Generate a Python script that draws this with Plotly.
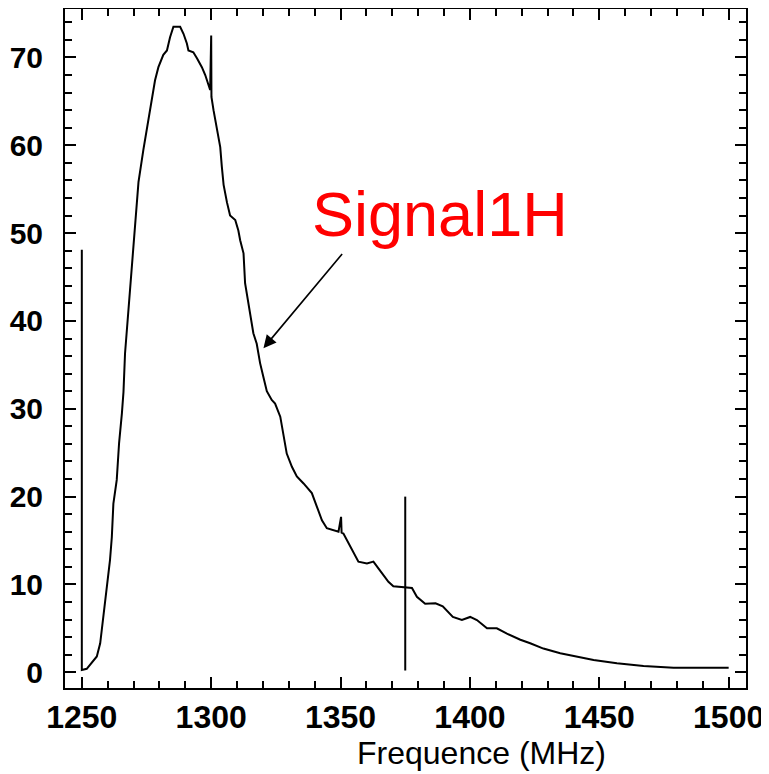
import plotly.graph_objects as go

# Signal curve (MHz, arbitrary units)
freq = [1250.0, 1250.0, 1251.9, 1255.8, 1257.1, 1258.0, 1259.0, 1259.9, 1260.9, 1261.6,
        1262.2, 1263.5, 1264.4, 1265.5, 1266.1, 1266.7, 1267.4, 1268.3, 1269.1, 1270.0,
        1271.3, 1271.9, 1273.8, 1275.1, 1276.4, 1278.3, 1279.6, 1281.5, 1282.9, 1284.1,
        1285.4, 1288.0, 1289.3, 1290.6, 1291.2, 1293.1, 1294.5, 1296.4, 1297.7, 1298.9,
        1299.6, 1300.0, 1300.1, 1300.9, 1302.2, 1303.5, 1304.1, 1304.8, 1306.1, 1307.3,
        1309.3, 1310.5, 1311.2, 1312.5, 1313.1, 1313.8, 1315.1, 1316.3, 1317.6, 1318.9,
        1320.2, 1321.5, 1323.4, 1324.7, 1326.7, 1327.9, 1329.2, 1331.2, 1333.1, 1335.7,
        1338.9, 1340.8, 1342.8, 1344.7, 1349.2, 1350.2, 1350.4, 1351.1, 1353.1, 1355.0,
        1356.9, 1360.2, 1362.7, 1364.7, 1366.6, 1368.5, 1370.4, 1374.3, 1377.6, 1379.5,
        1382.7, 1386.7, 1389.5, 1393.4, 1396.9, 1400.1, 1402.7, 1406.6, 1410.4, 1414.3,
        1419.5, 1423.3, 1428.4, 1434.9, 1441.3, 1447.8, 1456.8, 1467.1, 1478.7, 1500.0]
signal = [48.1, 0.26, 0.4, 1.8, 3.3, 5.6, 8.2, 10.5, 12.8, 15.4,
          19.2, 21.9, 26.1, 29.5, 31.9, 36.3, 39.0, 42.4, 45.8, 49.5,
          54.0, 55.8, 59.5, 61.7, 64.0, 67.4, 68.9, 70.3, 70.8, 72.3,
          73.5, 73.5, 72.7, 71.6, 70.8, 70.6, 69.9, 68.9, 68.0, 66.9,
          66.3, 72.5, 65.5, 64.0, 62.1, 59.8, 57.6, 55.5, 53.5, 52.0,
          51.5, 50.3, 49.2, 47.7, 44.3, 43.1, 40.9, 38.6, 37.4, 35.2,
          33.6, 32.0, 31.0, 30.6, 29.1, 27.2, 24.9, 23.4, 22.3, 21.5,
          20.4, 18.9, 17.3, 16.4, 16.0, 17.7, 15.9, 15.8, 14.7, 13.5,
          12.6, 12.4, 12.6, 11.8, 11.1, 10.3, 9.8, 9.7, 9.6, 8.6,
          7.8, 7.85, 7.5, 6.3, 5.95, 6.3, 5.95, 5.0, 5.0, 4.4,
          3.7, 3.3, 2.7, 2.16, 1.78, 1.4, 1.02, 0.72, 0.52, 0.52]

# Vertical marker line
marker_freq = [1375.0, 1375.0]
marker_level = [0.2, 20.0]

label_text = "Signal1H"
label_pos = (1388.5, 52.2)
arrow_tail = (1351.1, 47.8)
arrow_head = (1320.2, 36.9)

x_ticks = [1250, 1300, 1350, 1400, 1450, 1500]
y_ticks = [0, 10, 20, 30, 40, 50, 60, 70]

fig = go.Figure()
fig.add_trace(go.Scatter(x=freq, y=signal, mode="lines",
                         line=dict(color="black", width=2), showlegend=False))
fig.add_trace(go.Scatter(x=marker_freq, y=marker_level, mode="lines",
                         line=dict(color="black", width=2), showlegend=False))

FAM = "Liberation Sans, Arial, sans-serif"

# The page body adds an 8px offset, so the figure is 8px smaller than the window
fig.update_layout(
    width=761, height=766,
    margin=dict(l=57, r=23, t=1, b=86, autoexpand=False),
    paper_bgcolor="white", plot_bgcolor="white",
    font=dict(family=FAM, color="black"),
    xaxis=dict(range=[1243.5, 1506.7], tickvals=x_ticks, ticks="inside", ticklen=11,
               tickwidth=2, tickcolor="black", showline=True, linewidth=2, linecolor="black",
               mirror="ticks", showgrid=False, zeroline=False, automargin=False,
               ticklabelstandoff=0,
               tickfont=dict(family=FAM, size=32, color="black", weight="bold"),
               minor=dict(dtick=10, ticks="inside", ticklen=7, tickwidth=2, tickcolor="black",
                          showgrid=False)),
    yaxis=dict(range=[-1.79, 75.52], tickvals=y_ticks, ticks="inside", ticklen=11,
               tickwidth=2, tickcolor="black", showline=True, linewidth=2, linecolor="black",
               mirror="ticks", showgrid=False, zeroline=False, automargin=False,
               ticklabelstandoff=14,
               tickfont=dict(family=FAM, size=30, color="black", weight="bold"),
               minor=dict(dtick=2, ticks="inside", ticklen=7, tickwidth=2, tickcolor="black",
                          showgrid=False)),
)

fig.add_annotation(x=1404.5, y=-0.095, xref="x", yref="paper", text="Frequence (MHz)",
                   showarrow=False, xanchor="center", yanchor="middle",
                   font=dict(size=32, color="black"))
fig.add_annotation(x=label_pos[0], y=label_pos[1], xref="x", yref="y", text=label_text,
                   showarrow=False, xanchor="center", yanchor="middle",
                   font=dict(size=63, color="red"))
fig.add_annotation(x=arrow_head[0], y=arrow_head[1], ax=arrow_tail[0], ay=arrow_tail[1],
                   xref="x", yref="y", axref="x", ayref="y", text="", showarrow=True,
                   arrowhead=2, arrowsize=1.6, arrowwidth=1.6, arrowcolor="black")

fig.write_html("out.html")
